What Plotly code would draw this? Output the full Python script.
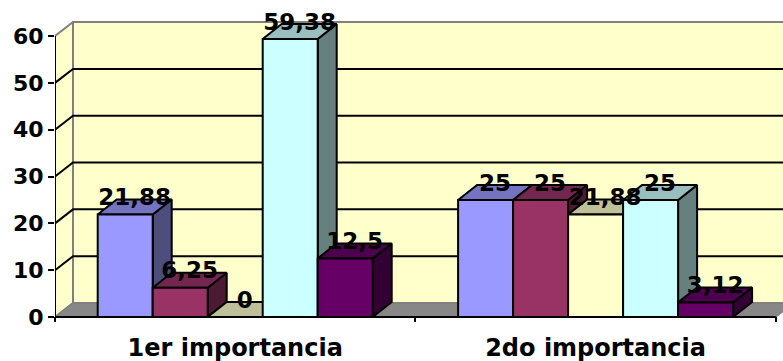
import plotly.graph_objects as go

# ---- data -------------------------------------------------------------
categories = ["1er importancia", "2do importancia"]
serie_1 = [21.88, 25]
serie_2 = [6.25, 25]
serie_3 = [0, 21.88]
serie_4 = [59.38, 25]
serie_5 = [12.5, 3.12]
series = [serie_1, serie_2, serie_3, serie_4, serie_5]
y_ticks = [0, 10, 20, 30, 40, 50, 60]

# ---- styling ----------------------------------------------------------
front_colors = ["#9999FF", "#993366", "#FFFFCC", "#CCFFFF", "#660066"]
top_colors = ["#7373BF", "#732650", "#BFBF99", "#99BFBF", "#4D004D"]
side_colors = ["#4D4D80", "#4D1A33", "#808066", "#668080", "#330033"]
WALL = "#FFFFCC"
FLOOR = "#878787"
EDGE_GRAY = "#808080"
FONT = "DejaVu Sans"

W, H = 783, 361
M_L, M_R, M_T, M_B = 55, 0, 0, 39
x_range = [-0.5, 1.52]
y_range = [-1.07, 67.7]
px_x = (W - M_L - M_R) / (x_range[1] - x_range[0])
px_y = (H - M_T - M_B) / (y_range[1] - y_range[0])

# oblique depth offsets (pixels converted to data units)
dxw, dyw = 18 / px_x, 14 / px_y      # walls / floor
dxb, dyb = 19 / px_x, 15 / px_y      # bars
n_series = len(series)
bar_w = 55 / px_x
y_top = y_ticks[-1]
x_left, x_right = -0.5, len(categories) - 0.5
x_far = x_right + dxw + 0.1

fig = go.Figure()


def polygon(pts, fill, line_color, width):
    xs = [p[0] for p in pts] + [pts[0][0]]
    ys = [p[1] for p in pts] + [pts[0][1]]
    fig.add_trace(go.Scatter(
        x=xs, y=ys, mode="lines", fill="toself", fillcolor=fill,
        line=dict(color=line_color, width=width),
        hoverinfo="skip", showlegend=False))


def polyline(xs, ys, color, width):
    fig.add_trace(go.Scatter(
        x=xs, y=ys, mode="lines", line=dict(color=color, width=width),
        hoverinfo="skip", showlegend=False))


# walls and floor
polygon([(x_left, 0), (x_left + dxw, dyw), (x_left + dxw, y_top + dyw), (x_left, y_top)],
        WALL, EDGE_GRAY, 2)
polygon([(x_left + dxw, dyw), (x_far, dyw), (x_far, y_top + dyw), (x_left + dxw, y_top + dyw)],
        WALL, EDGE_GRAY, 2)
polygon([(x_left, 0), (x_right, 0), (x_right + dxw, dyw), (x_left + dxw, dyw)],
        FLOOR, EDGE_GRAY, 1.5)

# gridlines on the side and back walls
gx, gy = [], []
for v in y_ticks[1:-1]:
    gx += [x_left, x_left + dxw, x_far, None]
    gy += [v, v + dyw, v + dyw, None]
polyline(gx, gy, "black", 2)

# 3D bars, painted left to right
label_x, label_y, label_txt = [], [], []
for ci, _ in enumerate(categories):
    start = ci - n_series * bar_w / 2
    for si, vals in enumerate(series):
        v = vals[ci]
        x0 = start + si * bar_w
        x1 = x0 + bar_w
        # right side face
        polygon([(x1, 0), (x1 + dxb, dyb), (x1 + dxb, v + dyb), (x1, v)],
                side_colors[si], "black", 2)
        # top face
        polygon([(x0, v), (x1, v), (x1 + dxb, v + dyb), (x0 + dxb, v + dyb)],
                top_colors[si], "black", 2)
        # front face
        if v > 0:
            polygon([(x0, 0), (x1, 0), (x1, v), (x0, v)],
                    front_colors[si], "black", 2)
        label_x.append((x0 + x1) / 2 + dxb / 2)
        label_y.append(v + dyb)
        label_txt.append(f"{v:g}".replace(".", ","))

# front axis lines
polyline([x_left, x_left], [0, y_top], "black", 2)
polyline([x_left, x_right], [0, 0], "black", 2)

# value labels
fig.add_trace(go.Scatter(
    x=label_x, y=label_y, text=label_txt, mode="text",
    textposition="middle center", cliponaxis=False,
    textfont=dict(family=FONT, size=23, color="black", weight="bold"),
    hoverinfo="skip", showlegend=False))

fig.update_layout(
    width=W, height=H,
    margin=dict(l=M_L, r=M_R, t=M_T, b=M_B),
    paper_bgcolor="white", plot_bgcolor="white",
    xaxis=dict(
        range=x_range, tickmode="array", tickvals=list(range(len(categories))),
        ticktext=categories, ticks="", showgrid=False, zeroline=False,
        showline=False, ticklabelstandoff=9,
        tickfont=dict(family=FONT, size=24, color="black", weight="bold"),
        minor=dict(tickmode="array", tickvals=[x_left + i for i in range(len(categories) + 1)],
                   ticks="inside", ticklen=5, tickwidth=2, tickcolor="black"),
    ),
    yaxis=dict(
        range=y_range, tickmode="array", tickvals=y_ticks,
        ticks="outside", ticklen=6, tickwidth=2, tickcolor="black",
        showgrid=False, zeroline=False, showline=False,
        tickfont=dict(family=FONT, size=22, color="black", weight="bold"),
    ),
)

fig.write_html("out.html")
